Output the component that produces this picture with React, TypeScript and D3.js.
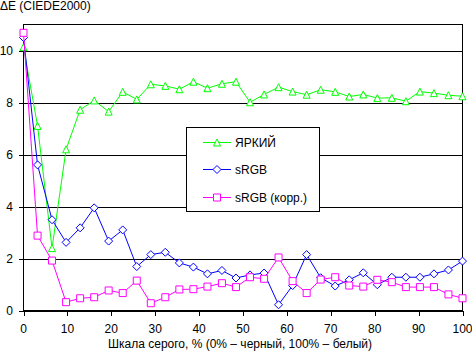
import React, { useEffect, useRef } from "react";
import * as d3 from "d3";

// grey level, % (32 steps)
const levels = [
  0, 3.2, 6.5, 9.7, 12.9, 16.1, 19.4, 22.6, 25.8, 29.0, 32.3, 35.5, 38.7, 41.9,
  45.2, 48.4, 51.6, 54.8, 58.1, 61.3, 64.5, 67.7, 71.0, 74.2, 77.4, 80.6, 83.9,
  87.1, 90.3, 93.5, 96.8, 100,
];

const bright = [
  10.13, 7.1, 2.4, 6.2, 7.72, 8.08, 7.65, 8.41, 8.12, 8.7, 8.64, 8.51, 8.8,
  8.55, 8.72, 8.8, 8.01, 8.31, 8.59, 8.42, 8.3, 8.49, 8.41, 8.23, 8.31, 8.17,
  8.18, 8.05, 8.42, 8.36, 8.28, 8.24,
];

const srgb = [
  10.5, 5.6, 3.49, 2.62, 3.18, 3.95, 2.67, 3.1, 1.69, 2.15, 2.24, 1.83, 1.67,
  1.41, 1.54, 1.25, 1.37, 1.44, 0.22, 0.96, 2.15, 1.26, 0.94, 1.18, 1.45, 0.99,
  1.28, 1.28, 1.28, 1.41, 1.56, 1.9,
];

const srgbCorr = [
  10.68, 2.88, 1.92, 0.32, 0.47, 0.51, 0.77, 0.67, 1.15, 0.28, 0.51, 0.81,
  0.82, 0.92, 1.05, 0.9, 1.28, 1.22, 2.04, 1.13, 0.67, 1.19, 1.28, 0.96, 0.92,
  1.18, 1.09, 0.9, 0.9, 0.9, 0.62, 0.47,
];

const xTicks = [0, 10, 20, 30, 40, 50, 60, 70, 80, 90, 100];
const yTicks = [0, 2, 4, 6, 8, 10];

const seriesNames = ["ЯРКИЙ", "sRGB", "sRGB (корр.)"];
const seriesColors = ["#00ff00", "#0000ff", "#ff00ff"];
const seriesMarkers = ["triangle", "diamond", "square"];

const font = "'Liberation Sans', Arial, sans-serif";

function markerPath(kind: string, cx: number, cy: number) {
  const r = 3.5;
  if (kind === "triangle")
    return `M${cx},${cy - r}L${cx + r},${cy + r}L${cx - r},${cy + r}Z`;
  if (kind === "diamond")
    return `M${cx},${cy - r - 0.5}L${cx + r + 0.5},${cy}L${cx},${cy + r + 0.5}L${cx - r - 0.5},${cy}Z`;
  return `M${cx - r},${cy - r}H${cx + r}V${cy + r}H${cx - r}Z`;
}

export default function App() {
  const ref = useRef<SVGSVGElement | null>(null);

  useEffect(() => {
    const svg = d3.select(ref.current);
    svg.selectAll("*").remove();

    const left = 23.5;
    const right = 462.5;
    const top = 24.5;
    const bottom = 310.5;

    const x = d3.scaleLinear().domain([0, 100]).range([left, right]);
    const y = d3.scaleLinear().domain([0, 11]).range([bottom, top]);

    svg
      .append("rect")
      .attr("width", 472)
      .attr("height", 353)
      .attr("fill", "#fff");

    // gridlines
    svg
      .append("g")
      .selectAll("line")
      .data(yTicks)
      .join("line")
      .attr("x1", left - 5)
      .attr("x2", right)
      .attr("y1", (d) => Math.round(y(d)) + 0.5)
      .attr("y2", (d) => Math.round(y(d)) + 0.5)
      .attr("stroke", "#000")
      .attr("shape-rendering", "crispEdges");

    // frame
    svg
      .append("rect")
      .attr("x", left)
      .attr("y", top)
      .attr("width", right - left)
      .attr("height", bottom - top)
      .attr("fill", "none")
      .attr("stroke", "#000")
      .attr("shape-rendering", "crispEdges");

    // x ticks
    svg
      .append("g")
      .selectAll("line")
      .data(xTicks)
      .join("line")
      .attr("x1", (d) => Math.round(x(d)) + 0.5)
      .attr("x2", (d) => Math.round(x(d)) + 0.5)
      .attr("y1", bottom)
      .attr("y2", bottom + 5)
      .attr("stroke", "#000")
      .attr("shape-rendering", "crispEdges");

    svg
      .append("g")
      .selectAll("text")
      .data(xTicks)
      .join("text")
      .attr("x", (d) => x(d))
      .attr("y", 333)
      .attr("text-anchor", "middle")
      .attr("font-family", font)
      .attr("font-size", 12)
      .text((d) => d);

    svg
      .append("g")
      .selectAll("text")
      .data(yTicks)
      .join("text")
      .attr("x", 13)
      .attr("y", (d) => y(d) + 4.5)
      .attr("text-anchor", "end")
      .attr("font-family", font)
      .attr("font-size", 12)
      .text((d) => d);

    svg
      .append("text")
      .attr("x", 0)
      .attr("y", 10)
      .attr("font-family", font)
      .attr("font-size", 12)
      .text("ΔE (CIEDE2000)");

    svg
      .append("text")
      .attr("x", 240)
      .attr("y", 348)
      .attr("text-anchor", "middle")
      .attr("font-family", font)
      .attr("font-size", 12)
      .text("Шкала серого, % (0% – черный, 100% – белый)");

    const allSeries = [bright, srgb, srgbCorr];
    const line = d3
      .line<number>()
      .x((_, i) => x(levels[i]))
      .y((d) => y(d));

    allSeries.forEach((vals, s) => {
      const g = svg.append("g");
      g.append("path")
        .attr("d", line(vals))
        .attr("fill", "none")
        .attr("stroke", seriesColors[s])
        .attr("stroke-width", 1);
      g.selectAll("path.m")
        .data(vals)
        .join("path")
        .attr("class", "m")
        .attr("d", (d, i) => markerPath(seriesMarkers[s], x(levels[i]), y(d)))
        .attr("fill", "#fff")
        .attr("stroke", seriesColors[s]);
    });

    // legend
    const lg = svg.append("g");
    lg.append("rect")
      .attr("x", 186.5)
      .attr("y", 127.5)
      .attr("width", 133)
      .attr("height", 84)
      .attr("fill", "#fff")
      .attr("stroke", "#000")
      .attr("shape-rendering", "crispEdges");
    const rows = [142.5, 169.5, 197.5];
    seriesNames.forEach((name, s) => {
      lg.append("line")
        .attr("x1", 203)
        .attr("x2", 231)
        .attr("y1", rows[s])
        .attr("y2", rows[s])
        .attr("stroke", seriesColors[s]);
      lg.append("path")
        .attr("d", markerPath(seriesMarkers[s], 217, rows[s]))
        .attr("fill", "#fff")
        .attr("stroke", seriesColors[s]);
      lg.append("text")
        .attr("x", 235)
        .attr("y", rows[s] + 4.5)
        .attr("font-family", font)
        .attr("font-size", 12)
        .text(name);
    });
  }, []);

  return (
    <svg
      ref={ref}
      width={472}
      height={353}
      style={{ position: "absolute", left: 0, top: 0, display: "block" }}
    />
  );
}
